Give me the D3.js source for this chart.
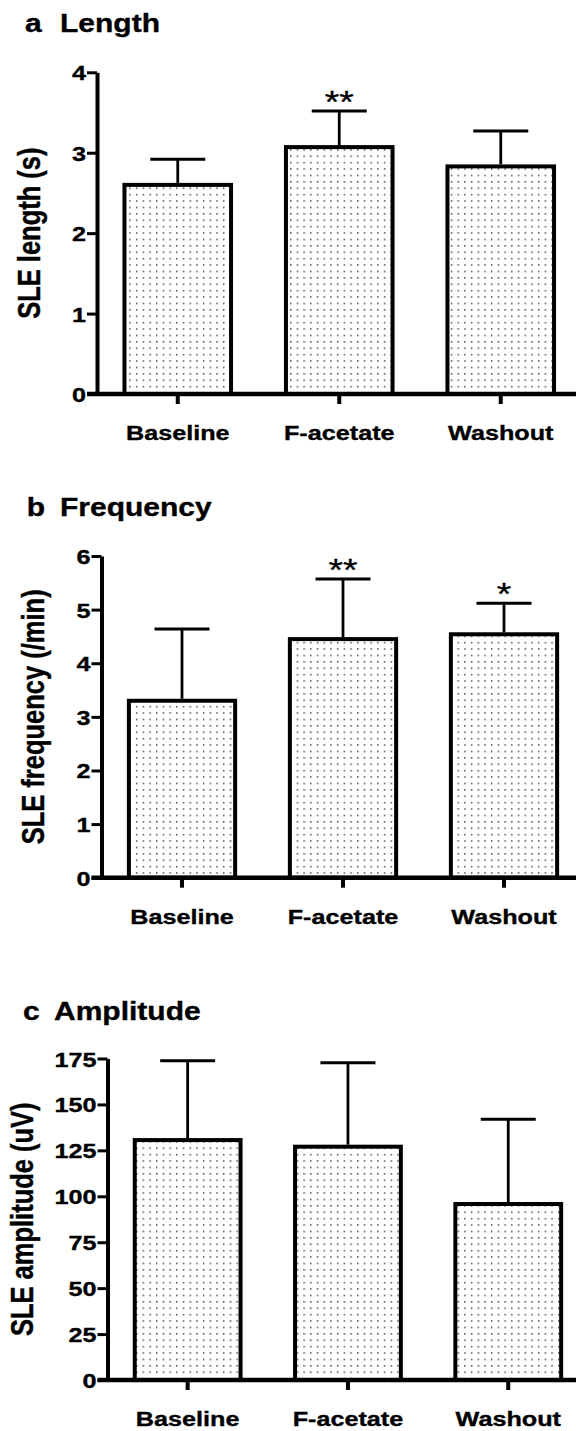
<!DOCTYPE html>
<html>
<head>
<meta charset="utf-8">
<script src="https://cdn.jsdelivr.net/npm/d3@7"></script>
<style>
  body { margin: 0; background: #fff; }
  svg { display: block; }
  text { font-family: "Liberation Sans", Arial, sans-serif; font-weight: bold; fill: #000; stroke: #000; stroke-width: 0.35px; }
</style>
</head>
<body>
<div id="chart"></div>
<script>
// data (mean and error bar)
var categories = ["Baseline", "F-acetate", "Washout"];

var lengthMean = [2.60, 3.07, 2.83];
var lengthErr = [0.32, 0.45, 0.44];
var lengthStars = ["", "**", ""];
var lengthTicks = [0, 1, 2, 3, 4];

var freqMean = [3.30, 4.45, 4.54];
var freqErr = [1.34, 1.12, 0.58];
var freqStars = ["", "**", "*"];
var freqTicks = [0, 1, 2, 3, 4, 5, 6];

var ampMean = [130.6, 127.0, 95.8];
var ampErr = [43.2, 45.7, 46.1];
var ampStars = ["", "", ""];
var ampTicks = [0, 25, 50, 75, 100, 125, 150, 175];

var width = 576, height = 1431;
var SX = 1.2; // text in the figure is stretched sideways

var svg = d3.select("#chart").append("svg")
   .attr("width", width)
   .attr("height", height);

// dotted fill
var pat = svg.append("defs").append("pattern")
   .attr("id", "dots")
   .attr("patternUnits", "userSpaceOnUse")
   .attr("width", 6.7)
   .attr("height", 6.4);
pat.append("rect").attr("width", 6.7).attr("height", 6.4).attr("fill", "#fff");
pat.append("rect").attr("x", 2).attr("y", 2).attr("width", 1.3).attr("height", 1.3).attr("fill", "#111");

function stretch(x, y, rot) {
   return "translate(" + x + "," + y + ") scale(" + SX + ",1)" + (rot ? " rotate(-90)" : "");
}

function barPanel(cfg, means, errs, stars, ticks) {
   var g = svg.append("g");

   var y = d3.scaleLinear()
      .domain([0, ticks[ticks.length - 1]])
      .range([cfg.zero, cfg.top]);

   var x = d3.scaleBand()
      .domain(categories)
      .range([cfg.axisX, cfg.axisX + 3 * cfg.step])
      .paddingInner(0.34)
      .paddingOuter(0.17);

   var rows = categories.map(function(c, i) {
      return {cat: c, mean: means[i], err: errs[i], star: stars[i]};
   });

   // title
   g.append("text")
      .attr("transform", stretch(cfg.letterX, cfg.titleY))
      .style("font-size", "25px")
      .text(cfg.letter);
   g.append("text")
      .attr("transform", stretch(cfg.titleX, cfg.titleY))
      .style("font-size", "25px")
      .text(cfg.title);

   // bars
   g.selectAll(".bar")
      .data(rows)
      .enter().append("rect")
      .attr("class", "bar")
      .attr("x", function(d) { return x(d.cat); })
      .attr("y", function(d) { return y(d.mean); })
      .attr("width", x.bandwidth())
      .attr("height", function(d) { return y(0) - y(d.mean); })
      .attr("fill", "url(#dots)")
      .attr("stroke", "#000")
      .attr("stroke-width", 4);

   // error bars (upper only)
   g.selectAll(".errline")
      .data(rows)
      .enter().append("line")
      .attr("x1", function(d) { return x(d.cat) + x.bandwidth() / 2; })
      .attr("x2", function(d) { return x(d.cat) + x.bandwidth() / 2; })
      .attr("y1", function(d) { return y(d.mean) - 2; })
      .attr("y2", function(d) { return y(d.mean + d.err); })
      .attr("stroke", "#000")
      .attr("stroke-width", 2.8);

   g.selectAll(".errcap")
      .data(rows)
      .enter().append("line")
      .attr("x1", function(d) { return x(d.cat) + x.bandwidth() / 2 - 27.5; })
      .attr("x2", function(d) { return x(d.cat) + x.bandwidth() / 2 + 27.5; })
      .attr("y1", function(d) { return y(d.mean + d.err); })
      .attr("y2", function(d) { return y(d.mean + d.err); })
      .attr("stroke", "#000")
      .attr("stroke-width", 3);

   // significance stars
   g.selectAll(".star")
      .data(rows.filter(function(d) { return d.star; }))
      .enter().append("text")
      .attr("transform", function(d) {
         return stretch(x(d.cat) + x.bandwidth() / 2, y(d.mean + d.err) + cfg.starDy);
      })
      .attr("text-anchor", "middle")
      .style("font-size", "31px")
      .style("font-weight", "normal")
      .text(function(d) { return d.star; });

   // y axis
   var yAxis = d3.axisLeft(y)
      .tickValues(ticks)
      .tickSize(10)
      .tickSizeOuter(0)
      .tickFormat(d3.format("d"));

   var ya = g.append("g")
      .attr("transform", "translate(" + cfg.axisX + ",0)")
      .call(yAxis);
   ya.select(".domain").attr("stroke-width", 4);
   ya.selectAll(".tick line").attr("stroke-width", 3);
   ya.selectAll(".tick text")
      .attr("x", null)
      .attr("dy", null)
      .attr("transform", stretch(-11, 7.5))
      .style("font-size", "21px")
      .style("font-family", "'Liberation Sans', Arial, sans-serif")
      .style("font-weight", "bold");

   // x axis: ticks and labels from the band scale, baseline drawn across
   var xAxis = d3.axisBottom(x).tickSize(10).tickSizeOuter(0);
   var xa = g.append("g")
      .attr("transform", "translate(0," + y(0) + ")")
      .call(xAxis);
   xa.select(".domain").remove();
   xa.selectAll(".tick line").attr("stroke-width", 4);
   xa.selectAll(".tick text")
      .attr("y", null)
      .attr("dy", null)
      .attr("transform", stretch(0, cfg.labelDy))
      .style("font-size", "21px")
      .style("font-family", "'Liberation Sans', Arial, sans-serif")
      .style("font-weight", "bold");

   g.append("line")
      .attr("x1", cfg.axisX - 10)
      .attr("x2", width)
      .attr("y1", y(0))
      .attr("y2", y(0))
      .attr("stroke", "#000")
      .attr("stroke-width", 4.5);

   // y label
   g.append("text")
      .attr("transform", stretch(cfg.ylabelX, (y(0) + y(ticks[ticks.length - 1])) / 2, true))
      .attr("text-anchor", "middle")
      .style("font-size", "25.5px")
      .text(cfg.ylabel);
}

barPanel({letter: "a", title: "Length", letterX: 25, titleX: 60, titleY: 32,
          top: 72.3, zero: 394, axisX: 97, step: 161.5, labelDy: 46, starDy: 2,
          ylabelX: 40, ylabel: "SLE length (s)"},
         lengthMean, lengthErr, lengthStars, lengthTicks);

barPanel({letter: "b", title: "Frequency", letterX: 26.7, titleX: 60, titleY: 516,
          top: 556, zero: 877.7, axisX: 101.5, step: 161, labelDy: 46, starDy: 2,
          ylabelX: 44, ylabel: "SLE frequency (/min)"},
         freqMean, freqErr, freqStars, freqTicks);

barPanel({letter: "c", title: "Amplitude", letterX: 23, titleX: 54, titleY: 1020,
          top: 1058.5, zero: 1380, axisX: 107.5, step: 160.3, labelDy: 46, starDy: 0,
          ylabelX: 33, ylabel: "SLE amplitude (uV)"},
         ampMean, ampErr, ampStars, ampTicks);
</script>
</body>
</html>
